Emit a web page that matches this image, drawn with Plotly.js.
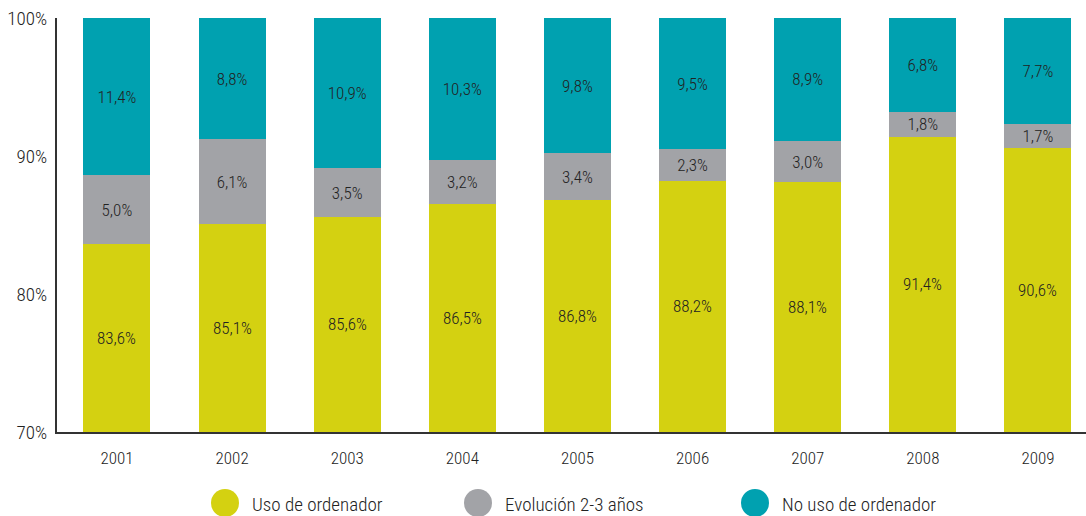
<!DOCTYPE html>
<html><head><meta charset="utf-8">
<script src="https://cdn.plot.ly/plotly-3.0.1.min.js"></script>
<style>html,body{margin:0;padding:0;background:#fff}#chart{width:1086px;height:516px}</style>
</head><body><div id="chart"></div>
<script>
const years = ['2001','2002','2003','2004','2005','2006','2007','2008','2009'];
const usoOrdenador = [83.6, 85.1, 85.6, 86.5, 86.8, 88.2, 88.1, 91.4, 90.6];
const evolucion = [5.0, 6.1, 3.5, 3.2, 3.4, 2.3, 3.0, 1.8, 1.7];
const noUso = [11.4, 8.8, 10.9, 10.3, 9.8, 9.5, 8.9, 6.8, 7.7];
const seriesNames = ['Uso de ordenador', 'Evolución 2-3 años', 'No uso de ordenador'];
const yTickVals = [70, 80, 90, 100];
const yTickText = ['70%', '80%', '90%', '100%'];

const colors = ['#d4d111', '#a2a3a7', '#00a1b0'];
const FONT = '"Roboto Condensed", "Liberation Sans Narrow", sans-serif';
const TXT = '#222222';
const W = 300;
const fmt = v => v.toFixed(1).replace('.', ',') + '%';
const Y_MIN = 70, Y_MAX = 100;

const seriesData = [usoOrdenador, evolucion, noUso];
const traces = seriesData.map((vals, i) => ({
  type: 'bar', x: years, y: vals, name: seriesNames[i],
  marker: {color: colors[i], line: {width: 0}},
  text: i === 0 ? null : vals.map(fmt), textposition: i === 0 ? 'none' : 'inside', insidetextanchor: 'middle',
  textangle: 0, constraintext: 'none',
  insidetextfont: {family: FONT, size: 17, color: TXT, weight: W},
  hoverinfo: 'x+y+name', showlegend: false, width: 0.582
}));

const shapes = [], annotations = [];
// labels for the bottom series, centred in the visible part of each bar
usoOrdenador.forEach((v, j) => {
  annotations.push({xref: 'x', yref: 'y', x: j, y: (Y_MIN + v) / 2, showarrow: false,
    text: fmt(v), font: {family: FONT, size: 17, color: TXT, weight: W}, xanchor: 'center', yanchor: 'middle'});
});

// custom legend (large circles)
const legendX = [225, 478, 755];
seriesNames.forEach((n, i) => {
  shapes.push({type: 'circle', xref: 'paper', yref: 'paper', xsizemode: 'pixel', ysizemode: 'pixel',
    xanchor: (legendX[i] - 57) / 1029, yanchor: -(503 - 432) / 414,
    x0: -14, x1: 14, y0: -14, y1: 14, fillcolor: colors[i], line: {width: 0}});
  annotations.push({xref: 'paper', yref: 'paper', x: (legendX[i] + 25 - 57) / 1029, y: -(505 - 432) / 414,
    xanchor: 'left', yanchor: 'middle', showarrow: false, text: n,
    font: {family: FONT, size: 19, color: TXT, weight: W}});
});

const layout = {
  width: 1086, height: 516,
  margin: {l: 57, r: 0, t: 18, b: 84},
  paper_bgcolor: '#ffffff', plot_bgcolor: '#ffffff',
  barmode: 'stack', showlegend: false,
  font: {family: FONT, color: TXT, weight: W},
  xaxis: {type: 'category', range: [-0.521, 8.417], showgrid: false, zeroline: false,
    showline: true, linecolor: '#333333', linewidth: 2,
    ticks: 'outside', ticklen: 10, tickcolor: 'rgba(0,0,0,0)',
    tickfont: {family: FONT, size: 17, color: TXT, weight: W}, fixedrange: true},
  yaxis: {range: [Y_MIN, Y_MAX], tickvals: yTickVals, ticktext: yTickText, showgrid: false, zeroline: false,
    showline: true, linecolor: '#333333', linewidth: 2, ticks: '', ticklabelstandoff: 4,
    tickfont: {family: FONT, size: 19, color: TXT, weight: W}, fixedrange: true},
  shapes: shapes, annotations: annotations
};

Plotly.newPlot('chart', traces, layout, {displayModeBar: false, staticPlot: true});
</script></body></html>
